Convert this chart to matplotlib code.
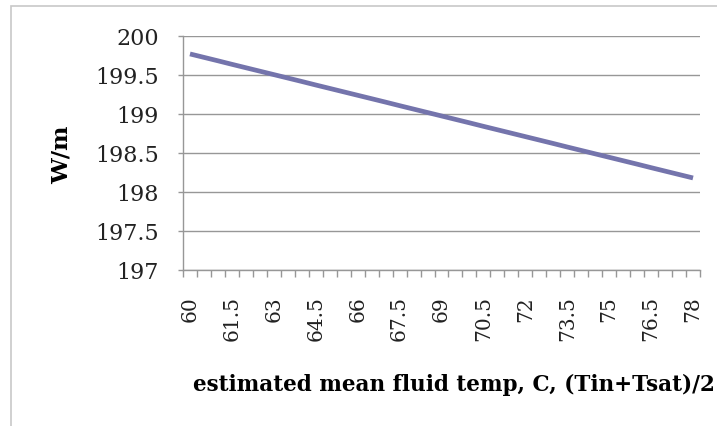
import matplotlib
matplotlib.use("Agg")
import matplotlib.pyplot as plt
from matplotlib.patches import Rectangle

# categories: estimated mean fluid temp (C)
temps = [60, 60.5, 61, 61.5, 62, 62.5, 63, 63.5, 64, 64.5, 65, 65.5, 66, 66.5,
         67, 67.5, 68, 68.5, 69, 69.5, 70, 70.5, 71, 71.5, 72, 72.5, 73, 73.5,
         74, 74.5, 75, 75.5, 76, 76.5, 77, 77.5, 78]
# W/m values
watts = [199.770, 199.726, 199.682, 199.637, 199.593, 199.549, 199.505, 199.461,
         199.417, 199.372, 199.328, 199.284, 199.240, 199.196, 199.152, 199.107,
         199.063, 199.019, 198.975, 198.931, 198.887, 198.842, 198.798, 198.754,
         198.710, 198.666, 198.622, 198.577, 198.533, 198.489, 198.445, 198.401,
         198.357, 198.312, 198.268, 198.224, 198.180]
y_ticks = [197, 197.5, 198, 198.5, 199, 199.5, 200]
y_labels = ["197", "197.5", "198", "198.5", "199", "199.5", "200"]
x_label = "estimated mean fluid temp, C, (Tin+Tsat)/2"
y_label = "W/m"

W, H = 717, 427
fig = plt.figure(figsize=(W / 100, H / 100), dpi=100)
fig.patch.set_facecolor("white")

# outer chart frame
fig.patches.append(Rectangle((11 / W, -0.01), 1.0, (H - 7) / H + 0.01,
                             transform=fig.transFigure, fill=False,
                             edgecolor="#c8c8c8", linewidth=1.2))

ax = fig.add_axes([183 / W, (H - 271) / H, (700 - 183) / W, (271 - 37) / H])
n = len(temps)
idx = list(range(n))
ax.plot(idx, watts, color="#7474AC", linewidth=3.4, solid_capstyle="butt")

ax.set_xlim(-0.5, n - 0.5)
ax.set_ylim(197, 200)
ax.set_yticks(y_ticks)
ax.set_yticklabels(y_labels)
ax.yaxis.grid(True, color="#979797", linewidth=1.0)
ax.set_axisbelow(True)

# category tick marks between categories
ax.set_xticks([i - 0.5 for i in range(n + 1)], minor=True)
ax.set_xticks(idx[::3])
ax.set_xticklabels([("%g" % temps[i]) for i in idx[::3]], rotation=90)
ax.tick_params(axis="x", which="major", length=0, pad=18)
ax.tick_params(axis="x", which="minor", length=5, color="#979797", width=1)
ax.tick_params(axis="y", length=3.5, color="#979797", width=1, direction="out",
               pad=14)

for s in ["top", "right"]:
    ax.spines[s].set_visible(False)
for s in ["left", "bottom"]:
    ax.spines[s].set_color("#979797")
    ax.spines[s].set_linewidth(1.0)

for lab in ax.get_yticklabels():
    lab.set_fontfamily("DejaVu Serif")
    lab.set_fontsize(16)
    lab.set_color("#222222")

for lab in ax.get_xticklabels():
    lab.set_fontfamily("DejaVu Serif")
    lab.set_fontsize(14.5)
    lab.set_color("#222222")
    lab.set_verticalalignment("top")

fig.text(62 / W, (H - 155) / H, y_label, fontfamily="DejaVu Serif",
         fontweight="bold", fontsize=16.5, rotation=90, ha="center",
         va="center")
fig.text(193 / W, (H - 385) / H, x_label, fontfamily="DejaVu Serif",
         fontweight="bold", fontsize=15.5, ha="left", va="center")

fig.savefig("out.png", dpi=100)
